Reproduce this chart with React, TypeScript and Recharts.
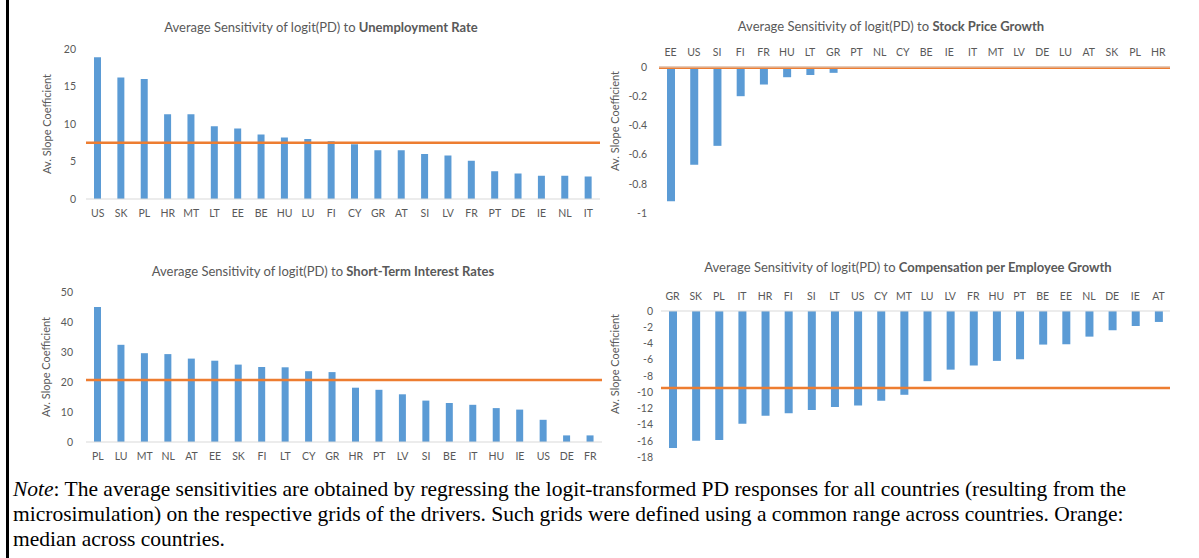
import React from "react";
import { BarChart, Bar, XAxis, YAxis, ReferenceLine } from "recharts";

// Unemployment rate
const unempCountries = ["US", "SK", "PL", "HR", "MT", "LT", "EE", "BE", "HU", "LU", "FI", "CY", "GR", "AT", "SI", "LV", "FR", "PT", "DE", "IE", "NL", "IT"];
const unempValues = [18.9, 16.2, 16.0, 11.3, 11.3, 9.7, 9.4, 8.6, 8.2, 8.0, 7.7, 7.3, 6.5, 6.5, 6.0, 5.8, 5.1, 3.7, 3.4, 3.1, 3.1, 3.0];
const unempTicks = [0, 5, 10, 15, 20];

// Stock price growth
const stockCountries = ["EE", "US", "SI", "FI", "FR", "HU", "LT", "GR", "PT", "NL", "CY", "BE", "IE", "IT", "MT", "LV", "DE", "LU", "AT", "SK", "PL", "HR"];
const stockValues = [-0.92, -0.67, -0.54, -0.2, -0.12, -0.07, -0.055, -0.04, -0.012, -0.01, -0.005, -0.004, -0.003, -0.003, -0.002, -0.002, -0.001, -0.001, -0.001, 0, 0, 0];
const stockTicks = [0, -0.2, -0.4, -0.6, -0.8, -1];

// Short-term interest rates
const rateCountries = ["PL", "LU", "MT", "NL", "AT", "EE", "SK", "FI", "LT", "CY", "GR", "HR", "PT", "LV", "SI", "BE", "IT", "HU", "IE", "US", "DE", "FR"];
const rateValues = [45.0, 32.4, 29.6, 29.3, 27.8, 27.1, 25.8, 25.0, 24.9, 23.6, 23.3, 18.1, 17.4, 15.9, 13.8, 13.0, 12.4, 11.3, 10.8, 7.4, 2.2, 2.2];
const rateTicks = [0, 10, 20, 30, 40, 50];

// Compensation per employee growth
const compCountries = ["GR", "SK", "PL", "IT", "HR", "FI", "SI", "LT", "US", "CY", "MT", "LU", "LV", "FR", "HU", "PT", "BE", "EE", "NL", "DE", "IE", "AT"];
const compValues = [-16.9, -16.0, -15.9, -13.9, -12.9, -12.6, -12.2, -11.85, -11.65, -11.07, -10.33, -8.65, -7.23, -6.72, -6.15, -5.95, -4.14, -4.1, -3.16, -2.38, -1.85, -1.35];
const compTicks = [0, -2, -4, -6, -8, -10, -12, -14, -16, -18];

const BLUE = "#5B9BD5";
const ORANGE = "#ED7D31";
const TEXT = "#595959";
const FONT = "Lato, 'Open Sans', sans-serif";

function median(values: number[]) {
  const s = [...values].sort((a, b) => a - b);
  const m = Math.floor(s.length / 2);
  return s.length % 2 ? s[m] : (s[m - 1] + s[m]) / 2;
}

interface PanelProps {
  countries: string[];
  values: number[];
  ticks: number[];
  domain: [number, number];
  left: number;
  top: number;
  width: number;
  height: number;
  margin: { top: number; right: number; bottom: number; left: number };
  yWidth: number;
  xOnTop?: boolean;
  barSize: number;
  yTickMargin: number;
}

function Panel({ countries, values, ticks, domain, left, top, width, height, margin, yWidth, xOnTop, barSize, yTickMargin }: PanelProps) {
  const data = countries.map((c, i) => ({ country: c, value: values[i] }));
  return (
    <div style={{ position: "absolute", left, top }}>
      <BarChart width={width} height={height} data={data} margin={margin} barSize={barSize}>
        <XAxis
          dataKey="country"
          orientation={xOnTop ? "top" : "bottom"}
          height={20}
          interval={0}
          tickLine={false}
          tickSize={0}
          tickMargin={11}
          axisLine={{ stroke: "#D9D9D9", strokeWidth: 1 }}
          tick={{ fill: TEXT, fontSize: 10.5, fontFamily: FONT }}
        />
        <YAxis
          width={yWidth}
          domain={domain}
          ticks={ticks}
          allowDataOverflow
          axisLine={false}
          tickLine={false}
          tickSize={0}
          tickMargin={yTickMargin}
          tick={{ fill: TEXT, fontSize: 10.5, fontFamily: FONT }}
        />
        <Bar dataKey="value" fill={BLUE} isAnimationActive={false} />
        <ReferenceLine y={median(values)} stroke={ORANGE} strokeWidth={2.5} />
      </BarChart>
    </div>
  );
}

function Title({ x, y, lead, bold }: { x: number; y: number; lead: string; bold: string }) {
  return (
    <div
      style={{
        position: "absolute",
        left: x - 300,
        top: y - 9,
        width: 600,
        textAlign: "center",
        fontFamily: FONT,
        fontSize: 13,
        lineHeight: "18px",
        color: TEXT,
        whiteSpace: "nowrap",
      }}
    >
      {lead}
      <b>{bold}</b>
    </div>
  );
}

function AxisLabel({ x, y }: { x: number; y: number }) {
  return (
    <div
      style={{
        position: "absolute",
        left: x - 80,
        top: y - 7,
        width: 160,
        textAlign: "center",
        fontFamily: FONT,
        fontSize: 11,
        lineHeight: "14px",
        color: TEXT,
        transform: "rotate(-90deg)",
        whiteSpace: "nowrap",
      }}
    >
      Av. Slope Coefficient
    </div>
  );
}

export default function App() {
  return (
    <div style={{ position: "absolute", left: 0, top: 0, width: 1199, height: 558, background: "#fff", overflow: "hidden" }}>
      <div style={{ position: "absolute", left: 6, top: 0, width: 3, height: 558, background: "#000" }} />

      <Title x={321} y={27} lead="Average Sensitivity of logit(PD) to " bold="Unemployment Rate" />
      <AxisLabel x={47} y={124} />
      <Panel
        countries={unempCountries}
        values={unempValues}
        ticks={unempTicks}
        domain={[0, 20]}
        left={0}
        top={0}
        width={610}
        height={230}
        margin={{ top: 49, right: 10, bottom: 11, left: 0 }}
        yWidth={86}
        barSize={7}
        yTickMargin={10}
      />

      <Title x={891} y={26} lead="Average Sensitivity of logit(PD) to " bold="Stock Price Growth" />
      <AxisLabel x={615} y={121} />
      <Panel
        countries={stockCountries}
        values={stockValues}
        ticks={stockTicks}
        domain={[-1, 0]}
        left={600}
        top={0}
        width={600}
        height={230}
        margin={{ top: 47, right: 30, bottom: 17, left: 0 }}
        yWidth={59}
        xOnTop
        barSize={8}
        yTickMargin={12}
      />

      <Title x={323} y={271} lead="Average Sensitivity of logit(PD) to " bold="Short-Term Interest Rates" />
      <AxisLabel x={46} y={367} />
      <Panel
        countries={rateCountries}
        values={rateValues}
        ticks={rateTicks}
        domain={[0, 50]}
        left={0}
        top={250}
        width={610}
        height={230}
        margin={{ top: 42, right: 8, bottom: 18, left: 0 }}
        yWidth={86}
        barSize={7}
        yTickMargin={13}
      />

      <Title x={908} y={267} lead="Average Sensitivity of logit(PD) to " bold="Compensation per Employee Growth" />
      <AxisLabel x={615} y={364} />
      <Panel
        countries={compCountries}
        values={compValues}
        ticks={compTicks}
        domain={[-18, 0]}
        left={600}
        top={250}
        width={600}
        height={230}
        margin={{ top: 41, right: 30, bottom: 23, left: 0 }}
        yWidth={61}
        xOnTop
        barSize={8}
        yTickMargin={8}
      />

      <div
        style={{
          position: "absolute",
          left: 13,
          top: 477,
          width: 1180,
          fontFamily: "'Liberation Serif', 'Times New Roman', serif",
          fontSize: 21.5,
          lineHeight: "25px",
          color: "#000",
          whiteSpace: "nowrap",
        }}
      >
        <i>Note</i>: The average sensitivities are obtained by regressing the logit-transformed PD responses for all countries (resulting from the
        <br />
        microsimulation) on the respective grids of the drivers. Such grids were defined using a common range across countries. Orange:
        <br />
        median across countries.
      </div>
    </div>
  );
}
